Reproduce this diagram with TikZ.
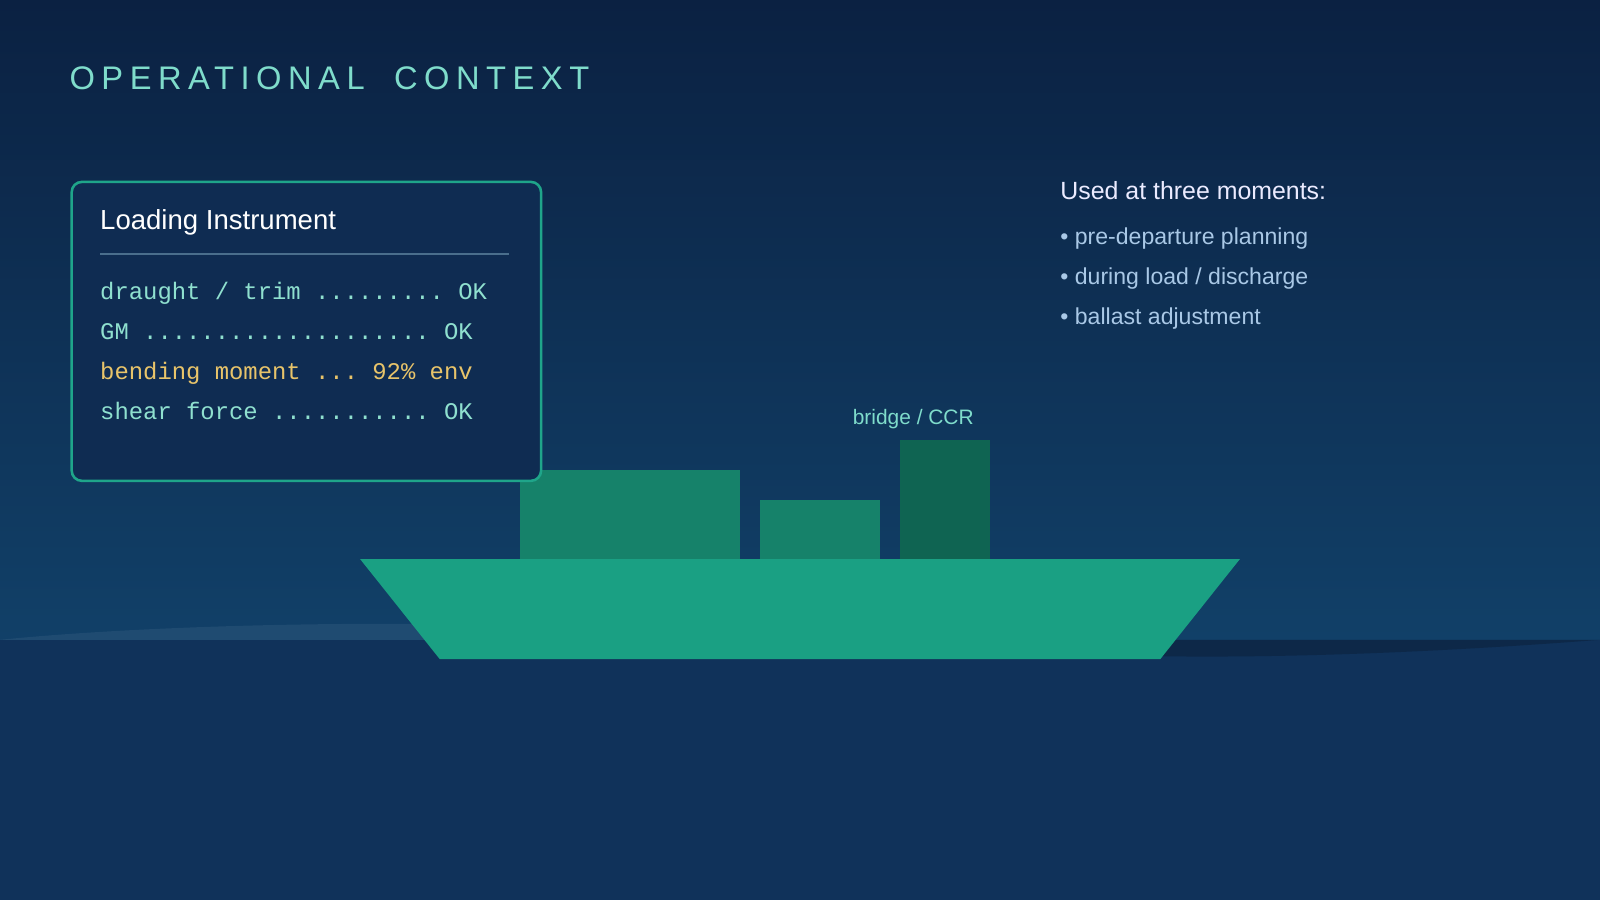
\documentclass[tikz,border=0pt]{standalone}
\usepackage{fontspec}
\setmainfont{Liberation Sans}
\setmonofont{Liberation Mono}
\newfontfamily\titlefont[LetterSpace=20]{Liberation Sans}
\begin{document}
\begin{tikzpicture}[x=1pt,y=-1pt,
  mono/.style={anchor=base west,font=\fontsize{23.4}{26}\ttfamily,text=monoc,inner sep=0},
  bul/.style={anchor=base west,font=\fontsize{22.6}{26}\selectfont,text=bulc,inner sep=0},
  ttl/.style={anchor=base west,inner sep=0,text=titlec,font=\titlefont\fontsize{32}{36}\selectfont},
  blk/.style={fill=blockc}]
\definecolor{topc}{HTML}{0B2142}
\definecolor{horc}{HTML}{114068}
\definecolor{seac}{HTML}{10325A}
\definecolor{titlec}{HTML}{7FDCCB}
\definecolor{monoc}{HTML}{8FE0CF}
\definecolor{yelc}{HTML}{E8C46A}
\definecolor{bulc}{HTML}{A9C8E6}
\definecolor{boxc}{HTML}{0F2C52}
\definecolor{borderc}{HTML}{1FA58A}
\definecolor{blockc}{HTML}{16826A}
\definecolor{bridgec}{HTML}{0F6452}
\definecolor{hullc}{HTML}{1AA083}
\useasboundingbox (0,0) rectangle (1568,882);
\shade[top color=topc,bottom color=horc] (0,0) rectangle (1568,627);
\fill[seac] (0,627) rectangle (1568,882);
\fill[horc!94!white] (0,627) .. controls (150,612) and (350,610) .. (440,612) -- (440,627) -- cycle;
\fill[black!20!seac] (1130,627) -- (1568,627) .. controls (1400,640) and (1250,645) .. (1130,643) -- cycle;
\node[ttl] (title) at (68,88) {OPERATIONAL};
\node[ttl] (title2) at (386,88) {CONTEXT};
% ship
\fill[blk] (510,461) rectangle (725,548);
\fill[blk] (745,490) rectangle (862,548);
\fill[bridgec] (882,431) rectangle (970,548);
\node[font=\fontsize{20.5}{24}\selectfont,text=titlec,inner sep=0,anchor=base] (bridge) at (895,416) {bridge / CCR};
\fill[hullc] (353,548) -- (1215,548) -- (1137,646) -- (431,646) -- cycle;
% box
\node[draw=borderc,line width=2.5pt,fill=boxc,rounded corners=10pt,minimum width=460pt,minimum height=293pt,anchor=north west,inner sep=0] (box) at (69,177) {};
\node[anchor=base west,inner sep=0,text=white,font=\fontsize{27}{30}\selectfont] (hd) at (98,225) {Loading Instrument};
\draw[horc!70!white!80!horc,line width=1.2pt] (98,249) -- (499,249);
\node[mono] (l1) at (98,294) {draught / trim ......... OK};
\node[mono] (l2) at (98,333) {GM .................... OK};
\node[mono,text=yelc] (l3) at (98,372) {bending moment ... 92\% env};
\node[mono] (l4) at (98,411) {shear force ........... OK};
% right text
\node[anchor=base west,inner sep=0,text=white!92!blue,font=\fontsize{24.4}{28}\selectfont] (used) at (1039,196) {Used at three moments:};
\node[bul] (b1) at (1039,240) {• pre-departure planning};
\node[bul] (b2) at (1039,279) {• during load / discharge};
\node[bul] (b3) at (1039,318) {• ballast adjustment};
\end{tikzpicture}
\end{document}
